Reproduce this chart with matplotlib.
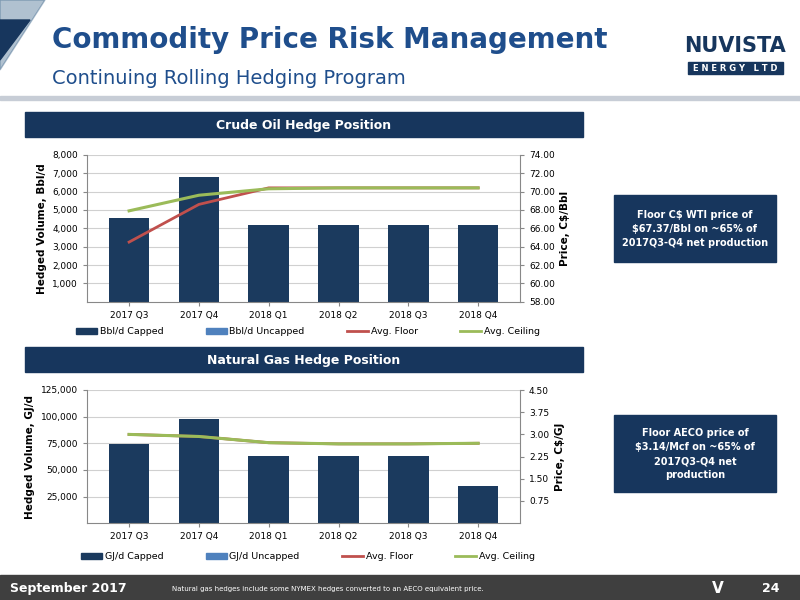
import numpy as np
import matplotlib.pyplot as plt
from matplotlib.patches import Rectangle, Polygon
from matplotlib.lines import Line2D

quarters = ['2017 Q3', '2017 Q4', '2018 Q1', '2018 Q2', '2018 Q3', '2018 Q4']
oil_capped = [4580, 6800, 4200, 4200, 4200, 4200]
oil_floor = [64.5, 68.6, 70.4, 70.4, 70.4, 70.4]
oil_ceiling = [67.9, 69.6, 70.3, 70.4, 70.4, 70.4]
gas_capped = [74500, 98000, 63500, 63500, 63500, 35000]
gas_floor = [3.00, 2.93, 2.72, 2.68, 2.68, 2.70]
gas_ceiling = [3.00, 2.93, 2.72, 2.68, 2.68, 2.70]

NAVY = '#17365d'
BAR = '#1b3a5e'
RED = '#c0504d'
GREEN = '#9bbb59'
UNC = '#4f81bd'

fig = plt.figure(figsize=(8, 6), dpi=100)

# background decoration
bg = fig.add_axes([0, 0, 1, 1])
bg.set_xlim(0, 800)
bg.set_ylim(600, 0)
bg.axis('off')
bg.add_patch(Polygon([[0, 0], [45, 0], [0, 70]], closed=True, color='#1f4e79', alpha=0.35))
bg.add_patch(Polygon([[0, 20], [30, 20], [0, 60]], closed=True, color=NAVY))
bg.add_patch(Rectangle((0, 96), 800, 4, color='#c7cdd6'))
bg.text(52, 48, 'Commodity Price Risk Management', fontsize=20, fontweight='bold', color='#1f4e8c')
bg.text(52, 84, 'Continuing Rolling Hedging Program', fontsize=14, color='#1f4e8c')
bg.text(735, 52, 'NUVISTA', fontsize=15, fontweight='bold', color=NAVY, ha='center')
bg.add_patch(Rectangle((688, 62), 95, 12, color=NAVY))
bg.text(735, 71, 'E N E R G Y   L T D', fontsize=6, color='white', ha='center', fontweight='bold')
bg.add_patch(Rectangle((25, 112), 558, 25, color=NAVY))
bg.text(304, 129, 'Crude Oil Hedge Position', fontsize=9, fontweight='bold', color='white', ha='center')
bg.add_patch(Rectangle((25, 347), 558, 25, color=NAVY))
bg.text(304, 364, 'Natural Gas Hedge Position', fontsize=9, fontweight='bold', color='white', ha='center')
bg.add_patch(Rectangle((614, 195), 162, 67, color=NAVY))
bg.text(695, 229, 'Floor C$ WTI price of\n$67.37/Bbl on ~65% of\n2017Q3-Q4 net production',
        fontsize=7, fontweight='bold', color='white', ha='center', va='center', linespacing=1.5)
bg.add_patch(Rectangle((614, 415), 162, 77, color=NAVY))
bg.text(695, 454, 'Floor AECO price of\n$3.14/Mcf on ~65% of\n2017Q3-Q4 net\nproduction',
        fontsize=7, fontweight='bold', color='white', ha='center', va='center', linespacing=1.5)
bg.add_patch(Rectangle((0, 575), 800, 25, color='#3f3f3f'))
bg.text(10, 592, 'September 2017', fontsize=9, fontweight='bold', color='white')
bg.text(172, 591, 'Natural gas hedges include some NYMEX hedges converted to an AECO equivalent price.',
        fontsize=5, color='white')
bg.text(712, 593, 'V', fontsize=11, fontweight='bold', color='white')
bg.text(762, 592, '24', fontsize=9, fontweight='bold', color='white')


def hedge_chart(rect, vols, floor, ceil, ylim, yticks, ylab, rlim, rticks, rlab, unit, legy):
    ax = fig.add_axes(rect)
    x = np.arange(len(quarters))
    ax.bar(x, vols, width=0.58, color=BAR, zorder=2)
    ax.set_xlim(-0.6, len(quarters) - 0.4)
    ax.set_ylim(*ylim)
    ax.set_yticks(yticks)
    ax.set_yticklabels([f'{t:,}' for t in yticks])
    ax.set_xticks(x)
    ax.set_xticklabels(quarters)
    ax.grid(axis='y', color='#d0d0d0', lw=0.8, zorder=0)
    ax.set_ylabel(ylab, fontsize=7.5, fontweight='bold')
    for s in ['top', 'right']:
        ax.spines[s].set_visible(False)
    for s in ['left', 'bottom']:
        ax.spines[s].set_color('#888888')
    ax.tick_params(labelsize=6.5, length=3, color='#888888')
    ax2 = ax.twinx()
    ax2.plot(x, floor, color=RED, lw=2)
    ax2.plot(x, ceil, color=GREEN, lw=2.2)
    ax2.set_ylim(*rlim)
    ax2.set_yticks(rticks)
    ax2.set_yticklabels([f'{t:.2f}' for t in rticks])
    ax2.set_ylabel(rlab, fontsize=7.5, fontweight='bold')
    for s in ['top', 'left', 'bottom']:
        ax2.spines[s].set_visible(False)
    ax2.spines['right'].set_color('#888888')
    ax2.tick_params(labelsize=6.5, length=3, color='#888888')
    handles = [Rectangle((0, 0), 1, 1, color=BAR), Rectangle((0, 0), 1, 1, color=UNC),
               Line2D([], [], color=RED, lw=2), Line2D([], [], color=GREEN, lw=2)]
    fig.legend(handles, [unit + ' Capped', unit + ' Uncapped', 'Avg. Floor', 'Avg. Ceiling'],
               loc='center', bbox_to_anchor=(0.385, legy), ncol=4, frameon=False,
               fontsize=6.8, columnspacing=4.5, handlelength=2.2, handleheight=0.6,
               handletextpad=0.3)


hedge_chart([0.109, 0.497, 0.541, 0.245], oil_capped, oil_floor, oil_ceiling,
            (0, 8000), list(range(1000, 8001, 1000)), 'Hedged Volume, Bbl/d',
            (58, 74), [58 + 2 * i for i in range(9)], 'Price, C$/Bbl', 'Bbl/d', 0.447)
hedge_chart([0.109, 0.128, 0.541, 0.222], gas_capped, gas_floor, gas_ceiling,
            (0, 125000), list(range(25000, 125001, 25000)), 'Hedged Volume, GJ/d',
            (0, 4.5), [0.75, 1.5, 2.25, 3.0, 3.75, 4.5], 'Price, C$/GJ', 'GJ/d', 0.072)

fig.savefig('out.png', dpi=100)
